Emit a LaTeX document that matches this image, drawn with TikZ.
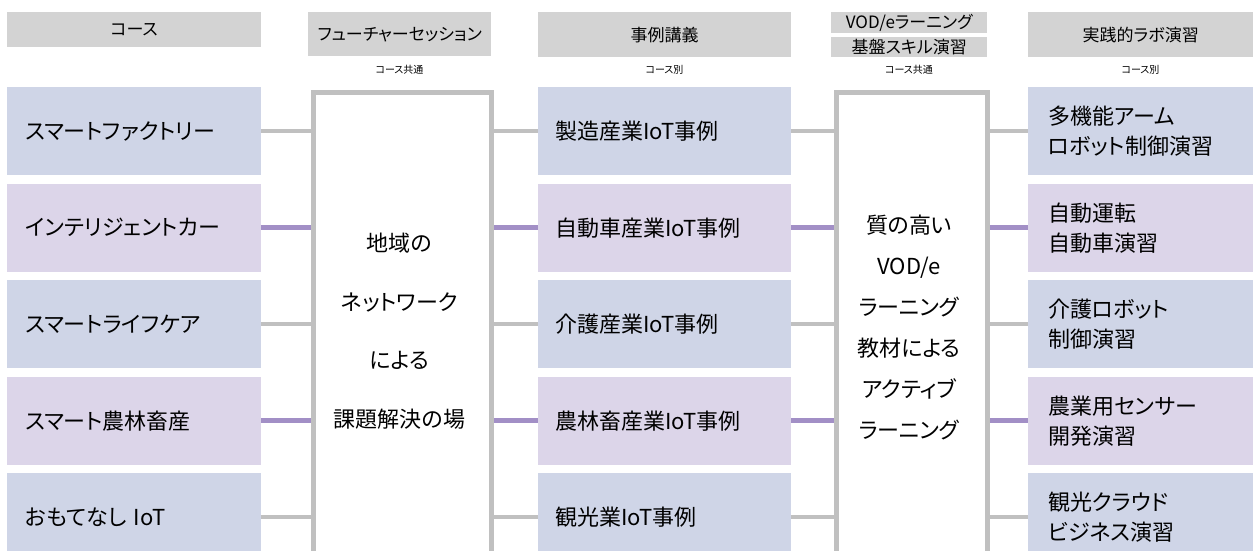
\documentclass[tikz,border=0pt]{standalone}
\usepackage{fontspec}
\setmainfont{Noto Sans CJK JP}[RawFeature=+palt]
\definecolor{hdrgray}{HTML}{D3D3D3}
\definecolor{boxblue}{HTML}{CFD5E7}
\definecolor{boxpurple}{HTML}{DCD5E9}
\definecolor{linegray}{HTML}{C0C0C0}
\definecolor{linepurple}{HTML}{A28FC6}
\begin{document}
\begin{tikzpicture}[x=1pt,y=-1pt,
  hdr/.style={fill=hdrgray, inner sep=0pt, anchor=north west, font=\fontsize{17}{20}\selectfont},
  sub/.style={inner sep=0pt, font=\fontsize{10}{12}\selectfont},
  cbox/.style={inner ysep=0pt, anchor=north west, minimum height=88pt, align=left, font=\fontsize{22}{30}\selectfont},
  blue/.style={fill=boxblue},
  purp/.style={fill=boxpurple},
  leftbox/.style={cbox, minimum width=254pt, inner xsep=18pt, text width=218pt},
  casebox/.style={cbox, minimum width=253pt, inner xsep=17pt, text width=219pt},
  labbox/.style={cbox, minimum width=225pt, inner xsep=20pt, text width=185pt},
  tallbox/.style={draw=linegray, line width=5pt, fill=white, inner sep=0pt, anchor=north west, minimum height=600pt},
  tallt/.style={align=center, inner sep=0pt},
  cg/.style={draw=linegray, line width=4.5pt},
  cp/.style={draw=linepurple, line width=4.5pt}]
\useasboundingbox (0,0) rectangle (1253,551);
\clip (0,0) rectangle (1253,551);
% headers
\node[hdr, minimum width=254pt, minimum height=35pt] (h1) at (7,12) {コース};
\node[hdr, minimum width=183pt, minimum height=44pt] (h2) at (308,12) {フューチャーセッション};
\node[hdr, minimum width=253pt, minimum height=45pt] (h3) at (538,12) {事例講義};
\node[hdr, minimum width=156pt, minimum height=21pt] (h4a) at (831,12) {VOD/eラーニング};
\node[hdr, minimum width=156pt, minimum height=20pt] (h4b) at (831,37) {基盤スキル演習};
\node[hdr, minimum width=225pt, minimum height=45pt] (h5) at (1028,12) {実践的ラボ演習};
\node[sub] (s2) at (399.5,70) {コース共通};
\node[sub] (s3) at (664.5,70) {コース別};
\node[sub] (s4) at (909,70) {コース共通};
\node[sub] (s5) at (1140.5,70) {コース別};
% left column
\node[leftbox, blue] (l1) at (7,87) {スマートファクトリー};
\node[leftbox, purp] (l2) at (7,183.5) {インテリジェントカー};
\node[leftbox, blue] (l3) at (7,280) {スマートライフケア};
\node[leftbox, purp] (l4) at (7,376.5) {スマート農林畜産};
\node[leftbox, blue] (l5) at (7,473) {おもてなし IoT};
% case column
\node[casebox, blue] (c1) at (538,87) {製造産業IoT事例};
\node[casebox, purp] (c2) at (538,183.5) {自動車産業IoT事例};
\node[casebox, blue] (c3) at (538,280) {介護産業IoT事例};
\node[casebox, purp] (c4) at (538,376.5) {農林畜産業IoT事例};
\node[casebox, blue] (c5) at (538,473) {観光業IoT事例};
% lab column
\node[labbox, blue] (r1) at (1028,87) {多機能アーム\\ロボット制御演習};
\node[labbox, purp] (r2) at (1028,183.5) {自動運転\\自動車演習};
\node[labbox, blue] (r3) at (1028,280) {介護ロボット\\制御演習};
\node[labbox, purp] (r4) at (1028,376.5) {農業用センサー\\開発演習};
\node[labbox, blue] (r5) at (1028,473) {観光クラウド\\ビジネス演習};
% connectors
\foreach \i/\s in {1/cg,2/cp,3/cg,4/cp,5/cg}{
  \draw[\s] (l\i.east) -- (c\i.west);
  \draw[\s] (c\i.east) -- (r\i.west);
}
% tall boxes
\node[tallbox, minimum width=178pt] (f) at (310.5,89.5) {};
\node[tallbox, minimum width=151pt] (v) at (833.5,89.5) {};
\node[tallt, font=\fontsize{22}{58.5}\selectfont] (ft) at (399.5,331) {地域の\\ネットワーク\\による\\課題解決の場};
\node[tallt, font=\fontsize{22}{41}\selectfont] (vt) at (909,328) {質の高い\\VOD/e\\ラーニング\\教材による\\アクティブ\\ラーニング};
\end{tikzpicture}
\end{document}
